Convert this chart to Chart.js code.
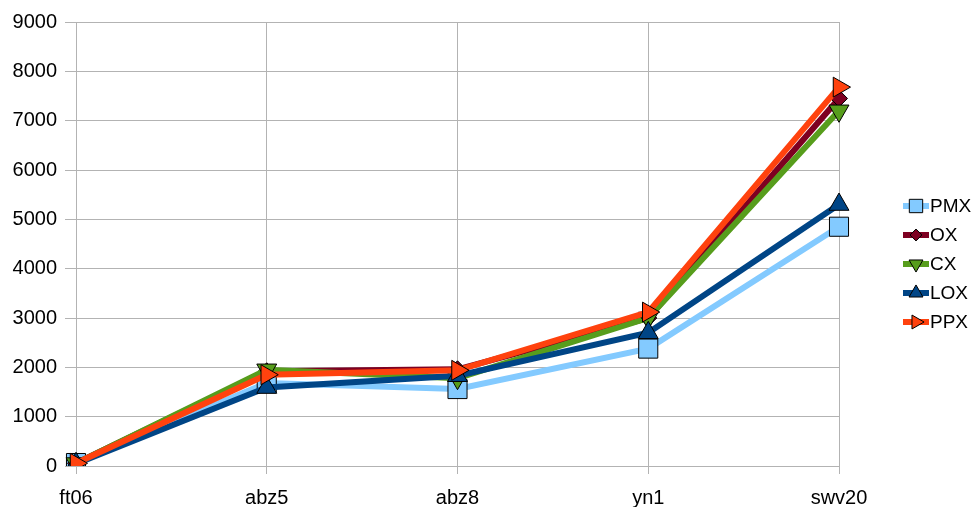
<!DOCTYPE html>
<html>
<head>
<meta charset="utf-8">
<script src="https://cdn.jsdelivr.net/npm/chart.js@4/dist/chart.umd.min.js"></script>
<style>
  html, body { margin: 0; padding: 0; background: #fff; }
  #wrap { width: 973px; height: 507px; }
</style>
</head>
<body>
<div id="wrap"><canvas id="c" width="973" height="507"></canvas></div>
<script>
// Benchmark instances on the x axis
const categories = ['ft06', 'abz5', 'abz8', 'yn1', 'swv20'];

// Results per crossover operator
const pmx = [60, 1680, 1560, 2380, 4850];
const ox  = [55, 1920, 1960, 3000, 7450];
const cx  = [50, 1950, 1780, 3000, 7200];
const lox = [45, 1590, 1830, 2700, 5300];
const ppx = [55, 1850, 1940, 3120, 7680];

const yTicks = [0, 1000, 2000, 3000, 4000, 5000, 6000, 7000, 8000, 9000];

const FONT = 'Liberation Sans, Arial, sans-serif';

function series(label, data, color, style, rotation, radius, order) {
  return {
    label, data,
    borderColor: color,
    backgroundColor: color,
    borderWidth: 6,
    pointStyle: style,
    pointRotation: rotation,
    pointRadius: radius,
    pointHoverRadius: radius,
    pointBackgroundColor: color,
    pointBorderColor: '#000',
    pointBorderWidth: 1,
    tension: 0,
    order
  };
}

const datasets = [
  series('PMX', pmx, '#83caff', 'rect', 0, 13.5, 5),
  series('OX',  ox,  '#7e0021', 'rectRot', 0, 8.5, 4),
  series('CX',  cx,  '#579d1c', 'triangle', 180, 11.5, 3),
  series('LOX', lox, '#004586', 'triangle', 0, 11.5, 2),
  series('PPX', ppx, '#ff420e', 'triangle', 90, 11.5, 1)
];

// Legend drawn as line segment with marker, placed to the right of the plot
const sideLegend = {
  id: 'sideLegend',
  afterDraw(chart) {
    const ctx = chart.ctx;
    const x0 = 903, x1 = 929, yStart = 206, step = 29;
    chart.data.datasets.forEach((ds, i) => {
      const y = yStart + i * step;
      ctx.save();
      ctx.strokeStyle = ds.borderColor;
      ctx.lineWidth = 6;
      ctx.beginPath();
      ctx.moveTo(x0, y);
      ctx.lineTo(x1, y);
      ctx.stroke();
      ctx.fillStyle = ds.backgroundColor;
      ctx.strokeStyle = '#000';
      ctx.lineWidth = 1;
      Chart.helpers.drawPoint(ctx, {
        pointStyle: ds.pointStyle,
        rotation: ds.pointRotation,
        radius: ds.pointRadius * 0.7,
        borderWidth: 1
      }, (x0 + x1) / 2, y);
      ctx.fillStyle = '#000';
      ctx.font = '19px ' + FONT;
      ctx.textBaseline = 'middle';
      ctx.textAlign = 'left';
      ctx.fillText(ds.label, 930, y + 1);
      ctx.restore();
    });
  }
};

new Chart(document.getElementById('c'), {
  type: 'line',
  data: { labels: categories, datasets },
  options: {
    responsive: false,
    animation: false,
    events: [],
    layout: { padding: { top: 22, right: 134, left: 0, bottom: 0 } },
    plugins: { legend: { display: false }, tooltip: { enabled: false } },
    scales: {
      x: {
        offset: false,
        grid: { color: '#b3b3b3', lineWidth: 1, tickLength: 8, drawTicks: true },
        border: { color: '#b3b3b3' },
        ticks: { color: '#000', font: { family: FONT, size: 20 }, padding: 12, maxRotation: 0, autoSkip: false },
        afterFit(scale) { scale.height = 41; }
      },
      y: {
        min: 0, max: 9000,
        afterBuildTicks(scale) { scale.ticks = yTicks.map(v => ({ value: v })); },
        grid: { color: '#b3b3b3', lineWidth: 1, tickLength: 11 },
        border: { color: '#b3b3b3' },
        ticks: { color: '#000', font: { family: FONT, size: 20 }, padding: 8, callback: v => String(v) },
        afterFit(scale) { scale.width = 76; }
      }
    }
  },
  plugins: [sideLegend]
});
</script>
</body>
</html>
